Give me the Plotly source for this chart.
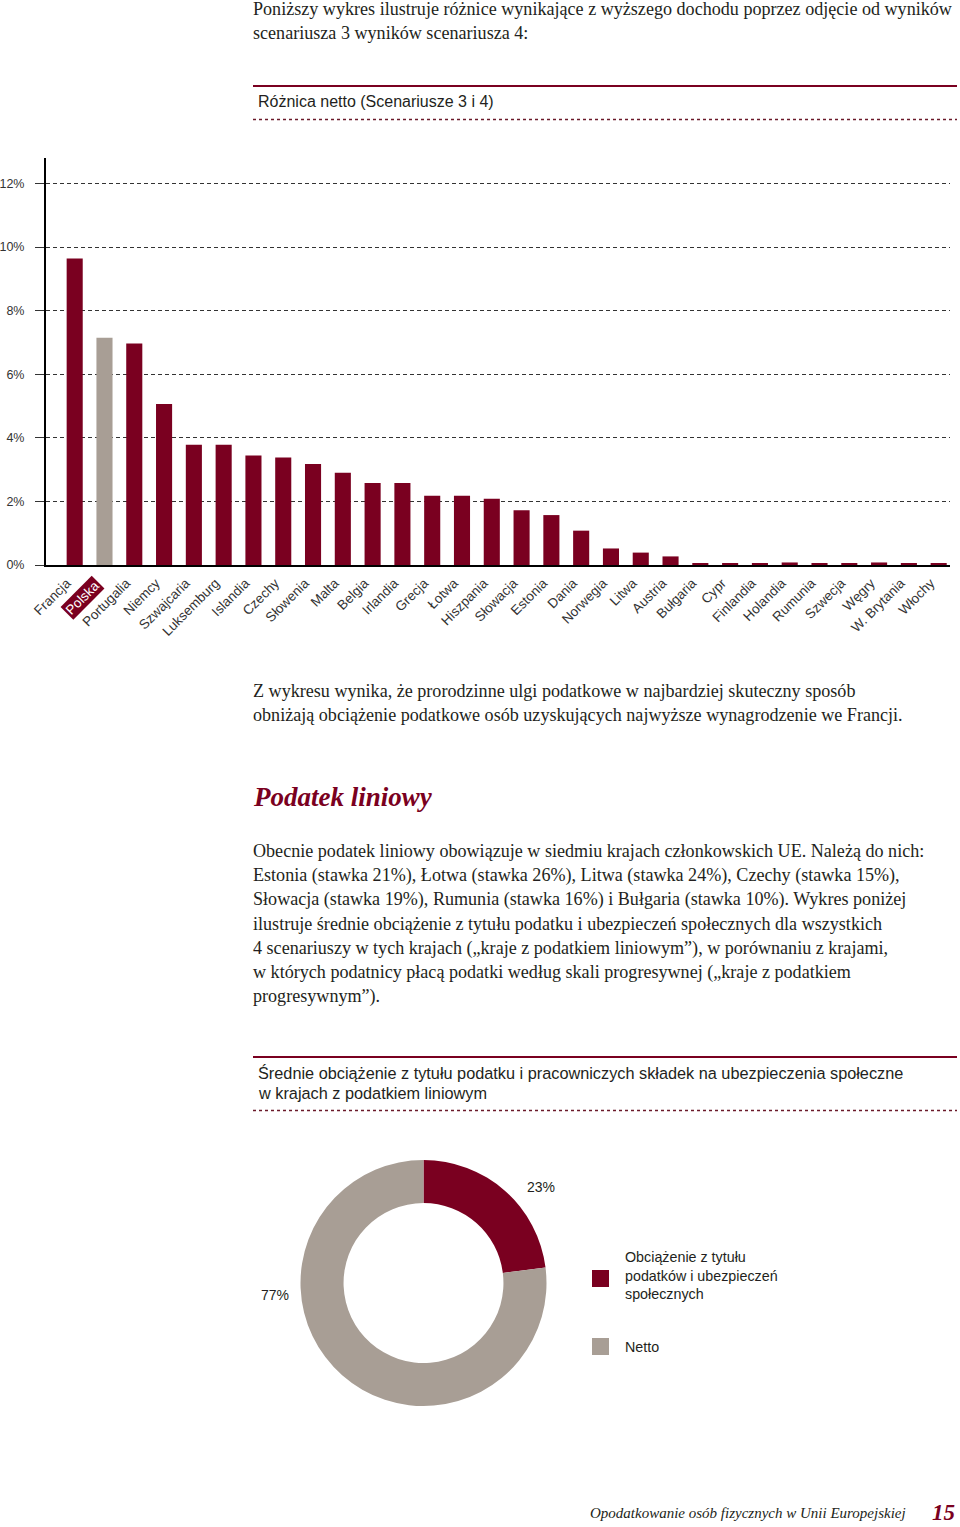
import plotly.graph_objects as go

W, H = 960, 1527

# ---------------- data ----------------
countries = ["Francja", "Polska", "Portugalia", "Niemcy", "Szwajcaria", "Luksemburg",
             "Islandia", "Czechy", "Słowenia", "Malta", "Belgia", "Irlandia", "Grecja",
             "Łotwa", "Hiszpania", "Słowacja", "Estonia", "Dania", "Norwegia", "Litwa",
             "Austria", "Bułgaria", "Cypr", "Finlandia", "Holandia", "Rumunia", "Szwecja",
             "Węgry", "W. Brytania", "Włochy"]
net_diff = [9.64, 7.15, 6.97, 5.06, 3.78, 3.78, 3.44, 3.38, 3.18, 2.90,
            2.58, 2.58, 2.18, 2.18, 2.08, 1.72, 1.57, 1.08, 0.52, 0.39,
            0.27, 0.04, 0.05, 0.06, 0.08, 0.05, 0.06, 0.08, 0.06, 0.05]
highlight = "Polska"
y_ticks = [0, 2, 4, 6, 8, 10, 12]

pie_labels = ["Obciążenie z tytułu<br>podatków i ubezpieczeń<br>społecznych", "Netto"]
pie_values = [23, 77]

RED = "#7A0020"
GRAY = "#A89E95"
TXT = "#231F20"
SERIF = "Liberation Serif, Times New Roman, serif"
SANS = "Liberation Sans, Arial, Helvetica, sans-serif"


def px(x):
    return x / W


def py(y):
    return 1 - y / H


fig = go.Figure()

bar_colors = [GRAY if c == highlight else RED for c in countries]
fig.add_trace(go.Bar(x=countries, y=net_diff, marker=dict(color=bar_colors, line=dict(width=0)),
                     width=0.54, showlegend=False, xaxis="x", yaxis="y"))

fig.add_trace(go.Pie(labels=pie_labels, values=pie_values, sort=False, direction="clockwise",
                     rotation=0, hole=0.65, textinfo="none", showlegend=False,
                     marker=dict(colors=[RED, GRAY], line=dict(width=0)),
                     domain=dict(x=[px(300.5), px(546.5)], y=[py(1406), py(1160)])))

ticktext = ["" if c == highlight else c for c in countries]

fig.update_layout(
    width=W, height=H,
    margin=dict(l=0, r=0, t=0, b=0, autoexpand=False),
    paper_bgcolor="white", plot_bgcolor="white",
    xaxis=dict(domain=[px(46), px(950)], type="category", range=[-0.963, 29.38],
               tickmode="array", tickvals=countries, ticktext=ticktext,
               tickangle=-45, tickfont=dict(family=SANS, size=13.5, color="#333"),
               ticklabelshift=-8, ticklabelstandoff=3, automargin=False,
               showline=True, linecolor="black", linewidth=2, showgrid=False,
               ticks="", anchor="y", fixedrange=True),
    yaxis=dict(domain=[py(565), py(158)], range=[0, 12.8], tickmode="array",
               tickvals=y_ticks, ticktext=[f"{v}%" for v in y_ticks],
               tickfont=dict(family=SANS, size=12.5, color="#333"),
               showline=True, linecolor="black", linewidth=2,
               showgrid=True, gridcolor="#333", gridwidth=1, griddash="4px,3px",
               ticks="outside", ticklen=9, tickcolor="#333", tickwidth=1,
               ticklabelstandoff=8, automargin=False,
               zeroline=False, anchor="x", fixedrange=True),
)

ann = []


def text(x, y, s, size, family=SERIF, color=TXT, xanchor="left", **kw):
    ann.append(dict(x=px(x), y=py(y), xref="paper", yref="paper", text=s, showarrow=False,
                    xanchor=xanchor, yanchor="middle", align="left",
                    font=dict(family=family, size=size, color=color), **kw))


BODY = 18.1
# intro text
text(251, 9, "Poniższy wykres ilustruje różnice wynikające z wyższego dochodu poprzez odjęcie od wyników", BODY)
text(251, 33, "scenariusza 3 wyników scenariusza 4:", BODY)
text(256, 102, "Różnica netto (Scenariusze 3 i 4)", 16, family=SANS)

# Polska highlighted label
i_hl = countries.index(highlight)
ann.append(dict(x=i_hl, y=py(575), xref="x", yref="paper", text=highlight, showarrow=False,
                textangle=-45, xanchor="right", yanchor="top", xshift=1,
                bgcolor=RED, borderpad=1,
                font=dict(family=SANS, size=13.5, color="white")))

text(251, 691, "Z wykresu wynika, że prorodzinne ulgi podatkowe w najbardziej skuteczny sposób", BODY)
text(251, 715, "obniżają obciążenie podatkowe osób uzyskujących najwyższe wynagrodzenie we Francji.", BODY)

text(251, 797, "<b><i>Podatek liniowy</i></b>", 27, color=RED)

para = [
    "Obecnie podatek liniowy obowiązuje w siedmiu krajach członkowskich UE. Należą do nich:",
    "Estonia (stawka 21%), Łotwa (stawka 26%), Litwa (stawka 24%), Czechy (stawka 15%),",
    "Słowacja (stawka 19%), Rumunia (stawka 16%) i Bułgaria (stawka 10%). Wykres poniżej",
    "ilustruje średnie obciążenie z tytułu podatku i ubezpieczeń społecznych dla wszystkich",
    "4 scenariuszy w tych krajach („kraje z podatkiem liniowym”), w porównaniu z krajami,",
    "w których podatnicy płacą podatki według skali progresywnej („kraje z podatkiem",
    "progresywnym”).",
]
for k, line in enumerate(para):
    text(251, 851 + k * 24.3, line, BODY)

text(256, 1073, "Średnie obciążenie z tytułu podatku i pracowniczych składek na ubezpieczenia społeczne", 16.3, family=SANS)
text(256, 1093, "w krajach z podatkiem liniowym", 16.3, family=SANS)

# pie value labels
text(541, 1187, f"{pie_values[0]}%", 14, family=SANS, xanchor="center")
text(275, 1295, f"{pie_values[1]}%", 14, family=SANS, xanchor="center")

# custom legend
text(623, 1275, pie_labels[0], 14.3, family=SANS)
text(623, 1347, pie_labels[1], 14.3, family=SANS)

# footer
text(908, 1513, "<i>Opodatkowanie osób fizycznych w Unii Europejskiej</i>", 15, xanchor="right")
text(957, 1512, "<b><i>15</i></b>", 23, color=RED, xanchor="right")

shapes = []


def hline(y, dash="solid", width=2, color=RED):
    shapes.append(dict(type="line", xref="paper", yref="paper", x0=px(253), x1=px(957),
                       y0=py(y), y1=py(y), line=dict(color=color, width=width, dash=dash)))


hline(86, width=2)
hline(119.5, dash="dot", width=1.5, color="#6B1A2A")
hline(1057, width=2)
hline(1110.5, dash="dot", width=1.5, color="#6B1A2A")

for color, y0 in [(RED, 1270), (GRAY, 1338)]:
    shapes.append(dict(type="rect", xref="paper", yref="paper", x0=px(592), x1=px(609),
                       y0=py(y0 + 17), y1=py(y0), fillcolor=color, line=dict(width=0)))

fig.update_layout(annotations=ann, shapes=shapes)

fig.write_html("out.html", config={"displayModeBar": False},
               post_script="document.body.style.margin='0';document.body.style.overflow='hidden';")
